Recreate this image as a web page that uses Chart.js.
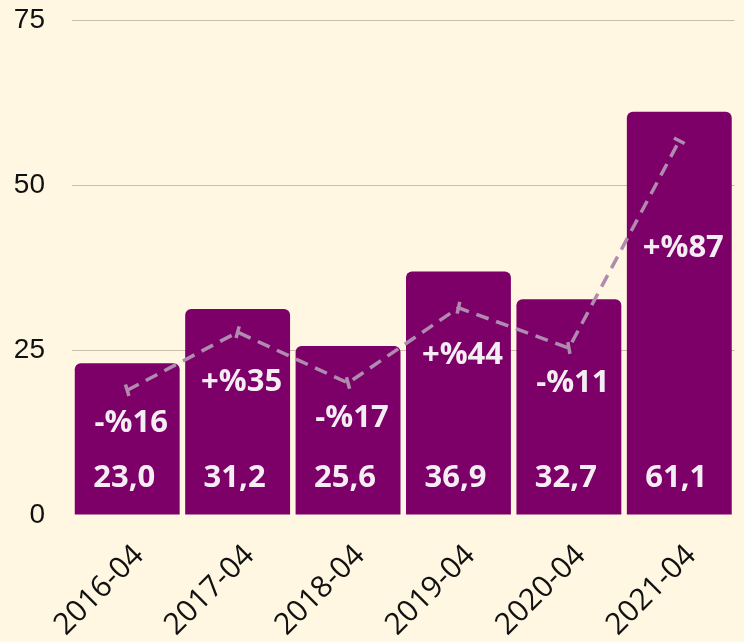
<!DOCTYPE html>
<html>
<head>
<meta charset="utf-8">
<script src="https://cdn.jsdelivr.net/npm/chart.js@4"></script>
<style>
  html, body { margin: 0; padding: 0; background: #fff7e1; }
  #wrap { width: 744px; height: 642px; }
</style>
</head>
<body>
<div id="wrap"><canvas id="myChart"></canvas></div>
<script>
var labels = ['2016-04', '2017-04', '2018-04', '2019-04', '2020-04', '2021-04'];
var barValues = [23.0, 31.2, 25.6, 36.9, 32.7, 61.1];
var lineValues = [18.9, 27.7, 20.0, 31.4, 25.3, 56.7];
var changeLabels = ['-%16', '+%35', '-%17', '+%44', '-%11', '+%87'];
var yTicks = [0, 25, 50, 75];

// pixel offsets of the change labels below the dashed line
var changeOffsets = [33, 50, 35, 47, 35, 107];

var barLabels = {
  id: 'barLabels',
  afterDatasetsDraw: function (chart) {
    var ctx = chart.ctx;
    var bars = chart.getDatasetMeta(0).data;
    var pts = chart.getDatasetMeta(1).data;
    var base = chart.scales.y.getPixelForValue(0);
    ctx.save();
    ctx.fillStyle = '#f4eef4';
    ctx.font = 'bold 31px "Open Sans"';
    ctx.textAlign = 'center';
    ctx.textBaseline = 'middle';
    bars.forEach(function (bar, i) {
      ctx.fillText(barValues[i].toFixed(1).replace('.', ','), bar.x - 3, base - 37);
      ctx.fillText(changeLabels[i], bar.x + 4, pts[i].y + changeOffsets[i]);
    });
    ctx.restore();
  }
};

var ctx = document.getElementById('myChart').getContext('2d');
var myChart = new Chart(ctx, {
  type: 'bar',
  data: {
    labels: labels,
    datasets: [{
      type: 'bar',
      data: barValues,
      backgroundColor: '#7d0068',
      borderRadius: 6,
      barPercentage: 0.95,
      categoryPercentage: 1.0,
      order: 2
    }, {
      type: 'line',
      data: lineValues,
      borderColor: '#b08bb0',
      borderWidth: 3.5,
      borderDash: [13, 8],
      pointStyle: 'line',
      pointRadius: 6,
      pointBorderWidth: 3.5,
      pointBorderColor: '#b08bb0',
      pointRotation: [73, 105, 75, 103, 80, 27],
      tension: 0,
      order: 1
    }]
  },
  options: {
    responsive: true,
    maintainAspectRatio: false,
    animation: false,
    layout: { padding: { left: 13, right: 8, top: 20, bottom: 0 } },
    plugins: {
      legend: { display: false },
      tooltip: { enabled: false }
    },
    scales: {
      x: {
        grid: { display: false },
        border: { display: false },
        afterFit: function (axis) {
          axis.paddingLeft = 0;
          axis.paddingRight = 0;
          axis.paddingBottom = 0;
          axis.height = 127;
        },
        ticks: {
          color: '#111',
          font: { family: '"Open Sans"', size: 30 },
          maxRotation: 45,
          minRotation: 45,
          padding: 15,
          labelOffset: 12
        }
      },
      y: {
        min: 0,
        max: 75,
        afterBuildTicks: function (axis) {
          axis.ticks = yTicks.map(function (v) { return { value: v }; });
        },
        afterFit: function (axis) {
          axis.paddingTop = 0;
          axis.paddingBottom = 0;
          axis.width = 59;
        },
        grid: {
          color: function (c) { return c.tick && c.tick.value === 0 ? 'rgba(0,0,0,0)' : '#c9bca8'; },
          drawTicks: false,
          lineWidth: 1
        },
        border: { display: false },
        ticks: {
          color: '#111',
          font: { family: '"Liberation Sans"', size: 28 },
          padding: 27
        }
      }
    }
  },
  plugins: [barLabels]
});
</script>
</body>
</html>
